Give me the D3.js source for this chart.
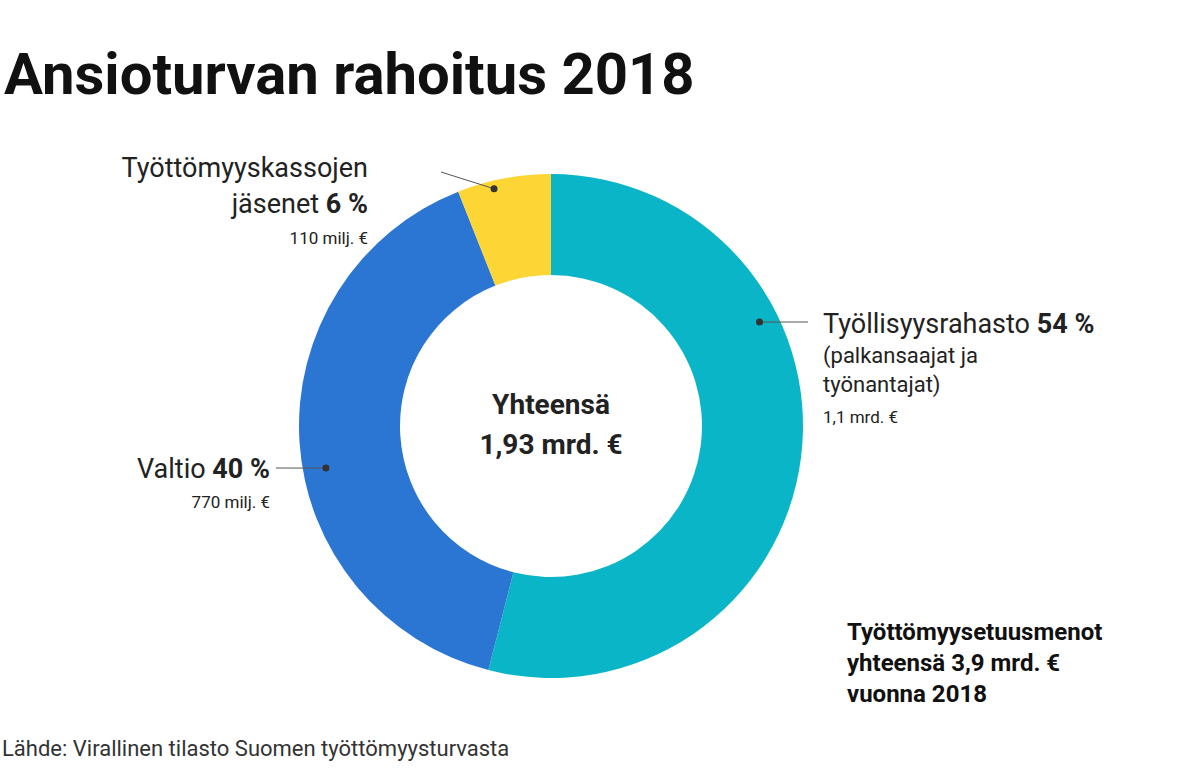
<!DOCTYPE html>
<html><head><meta charset="utf-8">
<script src="https://cdn.jsdelivr.net/npm/d3@7"></script>
<style>body{margin:0;background:#fff;font-family:Roboto,sans-serif}</style>
</head><body><svg id="c" width="1199" height="776"></svg>
<script>
const categories = ["Työllisyysrahasto", "Valtio", "Työttömyyskassojen jäsenet"];
const shares = [54, 40, 6];
const amounts = ["1,1 mrd. €", "770 milj. €", "110 milj. €"];
const colors = ["#0ab5c8", "#2b76d2", "#fdd535"];

const svg = d3.select("#c");
const cx = 551, cy = 426, R = 252, r = 151;
svg.append("text").attr("x",4).attr("y",94).attr("font-size",58).attr("font-weight",700).attr("fill","#111").text("Ansioturvan rahoitus 2018");
const pie = d3.pie().sort(null).value(d=>d)(shares);
const arc = d3.arc().innerRadius(r).outerRadius(R);
const g = svg.append("g").attr("transform",`translate(${cx},${cy})`);
g.selectAll("path").data(pie).join("path").attr("d",arc).attr("fill",(d,i)=>colors[i]);
g.append("text").attr("y",-12).attr("text-anchor","middle").attr("font-size",28).attr("font-weight",700).attr("fill","#222").text("Yhteensä");
g.append("text").attr("y",28).attr("text-anchor","middle").attr("font-size",28).attr("font-weight",700).attr("fill","#222").text("1,93 mrd. €");

// leader lines
const pts = [[63.5,233,808,322],[259.4,229,276,468],[-13.5,244,441,172]];
pts.forEach(([a,rr,x2,y2])=>{
  const t=a*Math.PI/180, x=cx+rr*Math.sin(t), y=cy-rr*Math.cos(t);
  svg.append("line").attr("x1",x).attr("y1",y).attr("x2",x2).attr("y2",y2).attr("stroke","#555").attr("stroke-width",1);
  svg.append("circle").attr("cx",x).attr("cy",y).attr("r",3.5).attr("fill","#333");
});
function lab(x,y,anchor,lines){
  const t=svg.append("text").attr("text-anchor",anchor).attr("fill","#222");
  lines.forEach(l=>{
    const tt=t.append("tspan").attr("x",x).attr("y",l.y).attr("font-size",l.s);
    l.parts.forEach(p=>tt.append("tspan").attr("font-weight",p[1]?700:400).text(p[0]));
  });
}
lab(823,333,"start",[{y:333,s:27,parts:[[categories[0]+" ",0],[shares[0]+" %",1]]},
  {y:363,s:22,parts:[["(palkansaajat ja",0]]},{y:392,s:22,parts:[["työnantajat)",0]]},
  {y:423,s:17,parts:[[amounts[0],0]]}]);
lab(270,478,"end",[{y:478,s:27,parts:[[categories[1]+" ",0],[shares[1]+" %",1]]},{y:508,s:17,parts:[[amounts[1],0]]}]);
lab(368,177,"end",[{y:177,s:27,parts:[["Työttömyyskassojen",0]]},{y:213,s:27,parts:[["jäsenet ",0],[shares[2]+" %",1]]},{y:244,s:17,parts:[[amounts[2],0]]}]);
const n=svg.append("text").attr("font-size",24).attr("font-weight",700).attr("fill","#111");
["Työttömyysetuusmenot","yhteensä 3,9 mrd. €","vuonna 2018"].forEach((s,i)=>n.append("tspan").attr("x",847).attr("y",640+i*31).text(s));
svg.append("text").attr("x",2).attr("y",756).attr("font-size",22).attr("fill","#333").text("Lähde: Virallinen tilasto Suomen työttömyysturvasta");
</script></body></html>
